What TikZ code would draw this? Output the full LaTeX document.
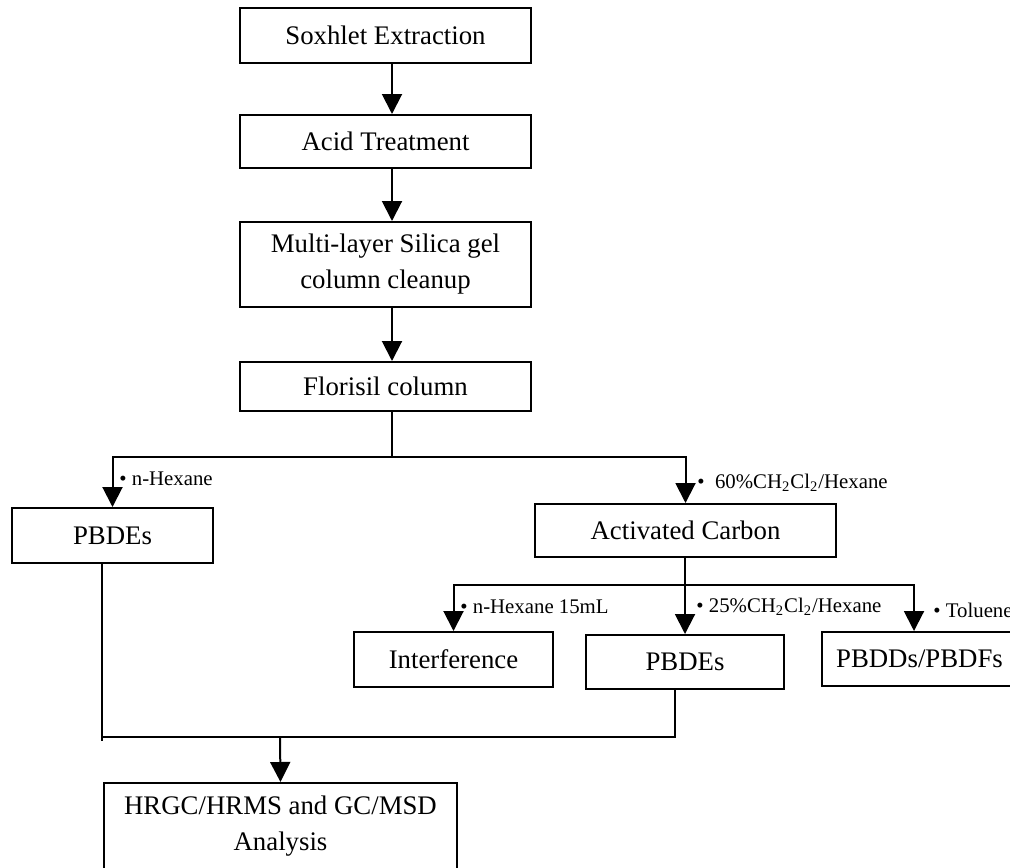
\documentclass[tikz,border=0pt]{standalone}
\usepackage{fontspec}
\setmainfont{Liberation Serif}
\usepackage{tikz}
\usetikzlibrary{arrows.meta}

\begin{document}
\begin{tikzpicture}[
  x=0.5pt,y=-0.5pt,
  every node/.style={align=center},
  box/.style={draw,line width=1pt,inner sep=0pt,font=\fontsize{13.4pt}{18pt}\selectfont},
  lbl/.style={anchor=west,inner sep=0pt,font=\fontsize{10.4pt}{12pt}\selectfont},
  line/.style={line width=1pt},
  arrow/.style={line,-{Triangle[length=10pt,width=10pt]}}
]
\useasboundingbox (0,0) rectangle (1010,867);
% main column
\node[box,minimum width=145.5pt,minimum height=27.5pt] (soxhlet) at (385.5,35.5) {Soxhlet Extraction};
\node[box,minimum width=145.5pt,minimum height=26.5pt] (acid) at (385.5,141.5) {Acid Treatment};
\node[box,minimum width=145.5pt,minimum height=42.5pt] (silica) at (385.5,264.5) {Multi-layer Silica gel\\column cleanup};
\node[box,minimum width=145.5pt,minimum height=24.5pt] (florisil) at (385.5,386.5) {Florisil column};
\coordinate (spine) at (392,0);
% fractions
\node[box,minimum width=100.5pt,minimum height=27.5pt] (pbdeA) at (112.5,535.5) {PBDEs};
\node[box,minimum width=150.5pt,minimum height=26.5pt] (carbon) at (685.5,530.5) {Activated Carbon};
\node[box,minimum width=99.5pt,minimum height=27.5pt] (interf) at (453.5,659.5) {Interference};
\node[box,minimum width=99pt,minimum height=27pt] (pbdeB) at (685,662) {PBDEs};
\node[box,minimum width=97.5pt,minimum height=27pt,anchor=north west] (pbdd) at (821,631) {PBDDs/PBDFs};
\node[box,minimum width=176.5pt,minimum height=43.5pt] (analysis) at (280.5,826.5) {HRGC/HRMS and GC/MSD\\Analysis};
% eluent labels
\node[lbl] (hexA) at (119,479) {\textbullet\ n-Hexane};
\node[lbl] (dcm60) at (697,483) {\textbullet\ \ 60\%CH\textsubscript{2}Cl\textsubscript{2}/Hexane};
\node[lbl] (hexB) at (460,607) {\textbullet\ n-Hexane 15mL};
\node[lbl] (dcm25) at (696,607) {\textbullet\ 25\%CH\textsubscript{2}Cl\textsubscript{2}/Hexane};
\node[lbl] (tol) at (933,610) {\textbullet\ Toluene};
% connectors
\draw[arrow] (soxhlet.south -| spine) -- (acid.north -| spine);
\draw[arrow] (acid.south -| spine) -- (silica.north -| spine);
\draw[arrow] (silica.south -| spine) -- (florisil.north -| spine);
\coordinate (forkA) at (392,457);
\draw[line] (florisil.south -| forkA) -- (forkA);
\draw[arrow] (forkA) -| (pbdeA.north);
\draw[arrow] (forkA) -| (carbon.north);
\coordinate (forkB) at (685,585);
\coordinate (tolB) at (914,585);
\draw[line] (carbon.south -| forkB) -- (forkB);
\draw[arrow] (forkB) -| (interf.north);
\draw[arrow] (forkB) -- (pbdeB.north);
\draw[arrow] (forkB) -- (tolB) -- (tolB |- pbdd.north);
\coordinate (joinL) at (102,737);
\coordinate (joinR) at (675,737);
\coordinate (joinM) at (280,737);
\draw[line] (pbdeA.south -| joinL) -- ([yshift=-2pt]joinL);
\draw[line] (joinL) -- (joinR) -- (pbdeB.south -| joinR);
\draw[arrow] (joinM) -- (analysis.north);
\end{tikzpicture}
\end{document}
